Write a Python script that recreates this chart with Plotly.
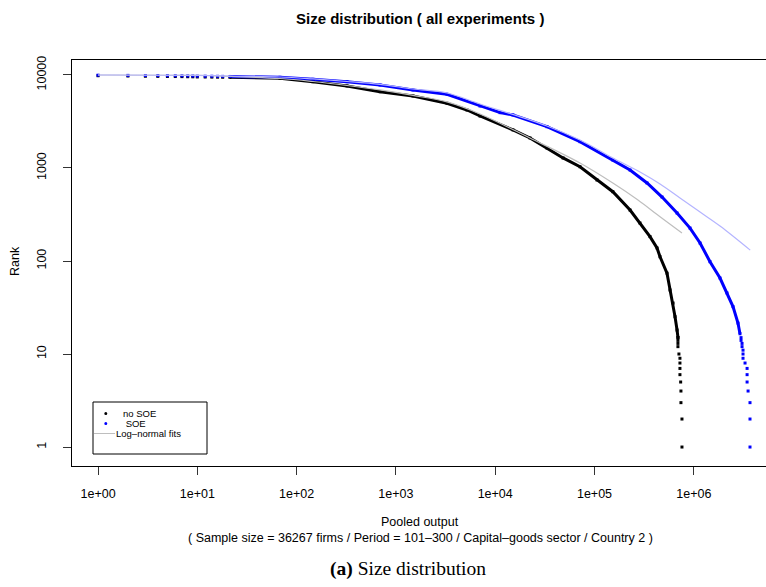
import plotly.graph_objects as go

# ---------------- data ----------------
# no SOE : pooled output (x) vs rank (y)
nosoe_output = [1, 2, 3, 4, 5, 6, 7, 8, 9, 10, 12, 14, 16, 18,
                21.3, 68, 146, 322, 692, 1486, 3270, 5200, 7030, 15100,
                22400, 33200, 48200, 71400, 106000, 153000, 228000, 287000,
                362000, 426000, 457000, 537000, 576000, 618000, 647000,
                678000, 693000,
                692000, 692000, 692000, 692000, 708000, 725000, 725000,
                725000, 725000, 737000, 742000, 742000, 760000, 760000]
nosoe_rank = [9820, 9750, 9690, 9660, 9640, 9620, 9600, 9580, 9560, 9530,
              9510, 9490, 9470, 9455,
              9440, 9220, 8470, 7620, 6610, 5940, 4960, 4205, 3622, 2566,
              2102, 1641, 1282, 1032, 743, 556, 353, 256,
              183, 138, 111, 74, 48.8, 35.3, 25.2,
              18.1, 15,
              15, 14, 13, 12, 10, 9, 8,
              7, 6, 5, 4, 3, 2, 1]
nosoe_line = (14, 41)   # index span forming the continuous curve

# SOE
soe_output = [1, 2, 3, 4, 5, 6, 7, 8, 9, 10, 12, 14, 16, 18,
              21.3, 68, 146, 322, 692, 1486, 3270, 7030, 11200, 15100,
              33200, 71400, 153000, 228000, 338000, 479000, 678000, 916000,
              1156000, 1456000, 1835000, 2158000, 2481000, 2785000, 2917000,
              2990000, 2990000, 3060000, 3060000, 3130000, 3130000, 3130000,
              3280000, 3440000, 3440000, 3440000, 3520000, 3680000, 3680000,
              3680000]
soe_rank = [9950, 9900, 9870, 9850, 9830, 9810, 9790, 9770, 9750, 9720,
            9700, 9690, 9675, 9660,
            9640, 9440, 8990, 8470, 7800, 6900, 6200, 4640, 3935, 3715,
            2780, 1918, 1219, 951, 690, 487, 328, 226,
            156, 98.3, 65.6, 45.3, 32.3, 21.5, 16.5,
            15, 14, 13, 12, 11, 10, 9,
            8, 7, 6, 5, 4, 3, 2,
            1]
soe_line = (14, 39)

# Log-normal fits
fit_nosoe_output = [1, 10, 21.3, 68, 146, 322, 692, 1486, 3270, 7030, 22400,
                    71400, 153000, 274000, 457000, 760000]
fit_nosoe_rank = [10000, 9880, 9640, 9165, 8510, 7710, 6900, 6025, 5130, 3810,
                  2102, 1132, 690, 453, 299, 200]
fit_soe_output = [1, 10, 21.3, 68, 146, 322, 692, 1486, 3270, 7030, 33200,
                  71400, 153000, 287000, 457000, 726000, 1156000, 1835000,
                  3700000]
fit_soe_rank = [10000, 9930, 9750, 9510, 9060, 8510, 7910, 7070, 6400, 4880,
                2830, 2000, 1282, 906, 673, 476, 336, 238, 131]

x_tickvals = [1, 10, 100, 1000, 10000, 100000, 1000000]
x_ticktext = ["1e+00", "1e+01", "1e+02", "1e+03", "1e+04", "1e+05", "1e+06"]
y_tickvals = [1, 10, 100, 1000, 10000]
y_ticktext = ["1", "10", "100", "1000", "10000"]

legend_labels = ["no SOE", " SOE", "Log\u2013normal fits"]

# ---------------- layout helpers (pixel -> paper) ----------------
W, H = 766, 587
L, R_, T, B = 72, 766, 60, 466
PW, PH = R_ - L, B - T


def px(x):
    return (x - L) / PW


def py(y):
    return (B - y) / PH


FONT = "Liberation Sans, Arial, sans-serif"

fig = go.Figure()

a, b = nosoe_line
fig.add_trace(go.Scatter(x=nosoe_output[a:b], y=nosoe_rank[a:b],
                         mode="lines", line=dict(color="#000000", width=3),
                         hoverinfo="skip", showlegend=False))
a, b = soe_line
fig.add_trace(go.Scatter(x=soe_output[a:b], y=soe_rank[a:b],
                         mode="lines", line=dict(color="#0000FF", width=3),
                         hoverinfo="skip", showlegend=False))
# points
fig.add_trace(go.Scatter(x=nosoe_output, y=nosoe_rank, mode="markers",
                         marker=dict(color="#000000", size=3, symbol="square"),
                         showlegend=False, name="no SOE"))
fig.add_trace(go.Scatter(x=soe_output, y=soe_rank, mode="markers",
                         marker=dict(color="#0000FF", size=3, symbol="square"),
                         showlegend=False, name="SOE"))
# fits
fig.add_trace(go.Scatter(x=fit_nosoe_output, y=fit_nosoe_rank, mode="lines",
                         line=dict(color="#BEBEBE", width=1.2, shape="spline"),
                         showlegend=False, hoverinfo="skip"))
fig.add_trace(go.Scatter(x=fit_soe_output, y=fit_soe_rank, mode="lines",
                         line=dict(color="#B4B4FF", width=1.2, shape="spline"),
                         showlegend=False, hoverinfo="skip"))

shapes = [
    # legend box
    dict(type="rect", xref="paper", yref="paper", x0=px(93), x1=px(207),
         y0=py(454), y1=py(402), line=dict(color="#000000", width=1),
         fillcolor="white", layer="above"),
    dict(type="circle", xref="paper", yref="paper", x0=px(104.3), x1=px(107.3),
         y0=py(415), y1=py(412), line=dict(width=0), fillcolor="#000000"),
    dict(type="circle", xref="paper", yref="paper", x0=px(104.3), x1=px(107.3),
         y0=py(425), y1=py(422), line=dict(width=0), fillcolor="#0000FF"),
    dict(type="line", xref="paper", yref="paper", x0=px(94), x1=px(115),
         y0=py(433.5), y1=py(433.5), line=dict(color="#BEBEBE", width=1)),
]

ann = [
    dict(text="<b>Size distribution ( all experiments )</b>", x=px(420), y=py(18),
         font=dict(size=15, family=FONT, color="#000")),
    dict(text="Rank", x=px(15), y=py(261), textangle=-90,
         font=dict(size=12.5, family=FONT, color="#000")),
    dict(text="Pooled output", x=px(420), y=py(522),
         font=dict(size=12.5, family=FONT, color="#000")),
    dict(text="( Sample size = 36267 firms / Period = 101\u2013300 / Capital\u2013goods sector / Country 2 )",
         x=px(420), y=py(538), font=dict(size=12.5, family=FONT, color="#000")),
    dict(text="<b>(a)</b> Size distribution", x=px(408), y=py(569),
         font=dict(size=19.5, family="Liberation Serif, DejaVu Serif, serif", color="#000")),
    dict(text=legend_labels[0], x=px(121.5), y=py(413.5), xanchor="left", borderpad=0,
         font=dict(size=9.5, family=FONT, color="#000")),
    dict(text=legend_labels[1], x=px(121.5), y=py(423.5), xanchor="left", borderpad=0,
         font=dict(size=9.5, family=FONT, color="#000")),
    dict(text=legend_labels[2], x=px(115), y=py(433.5), xanchor="left", borderpad=0,
         font=dict(size=9.5, family=FONT, color="#000")),
]
for an in ann:
    an.update(xref="paper", yref="paper", showarrow=False)
    an.setdefault("xanchor", "center")
    an.setdefault("yanchor", "middle")

fig.update_layout(
    width=W, height=H,
    margin=dict(l=L, r=W - R_, t=T, b=H - B, pad=0),
    paper_bgcolor="white", plot_bgcolor="white",
    showlegend=False,
    shapes=shapes, annotations=ann,
    font=dict(family=FONT, size=12.5, color="#000"),
)
fig.update_xaxes(type="log", range=[-0.262, 6.727], tickvals=x_tickvals, ticktext=x_ticktext,
                 showgrid=False, zeroline=False, showline=True, mirror=True,
                 linecolor="#000", linewidth=1, ticks="outside", ticklen=8,
                 tickcolor="#333", tickwidth=1, ticklabelstandoff=8,
                 tickfont=dict(size=12.5, family=FONT, color="#000"))
fig.update_yaxes(type="log", range=[-0.204, 4.161], tickvals=y_tickvals, ticktext=y_ticktext,
                 showgrid=False, zeroline=False, showline=True, mirror=False,
                 linecolor="#000", linewidth=1, ticks="outside", ticklen=8,
                 tickcolor="#333", tickwidth=1, tickangle=-90, ticklabelstandoff=12,
                 tickfont=dict(size=12.5, family=FONT, color="#000"))

fig.write_html("out.html")
